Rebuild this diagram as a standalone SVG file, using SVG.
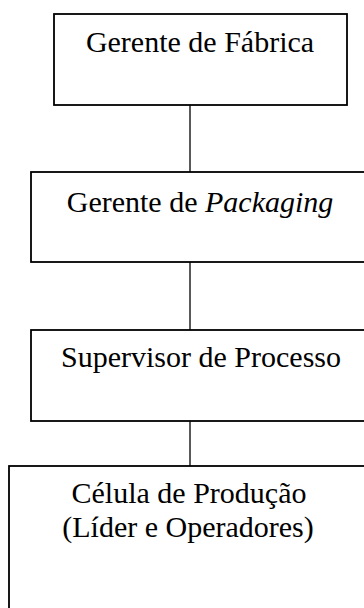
<svg xmlns="http://www.w3.org/2000/svg" width="364" height="608" viewBox="0 0 364 608">
<style>
.box{fill:#fff;stroke:#000;stroke-width:1.8}
.con{stroke:#000;stroke-width:1.3;fill:none}
text{font-family:"Liberation Serif","Times New Roman",serif;font-size:30px;fill:#000;text-anchor:middle}
</style>
<rect width="364" height="608" fill="#fff"/>
<g id="connectors">
<line class="con" x1="190" y1="105" x2="190" y2="172"/>
<line class="con" x1="190" y1="262" x2="190" y2="330"/>
<line class="con" x1="190" y1="421" x2="190" y2="466"/>
</g>
<g id="gerente-fabrica">
<rect class="box" x="54" y="14" width="293" height="91"/>
<text x="200" y="52">Gerente de Fábrica</text>
</g>
<g id="gerente-packaging">
<rect class="box" x="31" y="172" width="340" height="90"/>
<text x="200" y="212">Gerente de <tspan font-style="italic">Packaging</tspan></text>
</g>
<g id="supervisor-processo">
<rect class="box" x="31" y="330" width="340" height="91"/>
<text x="201" y="367">Supervisor de Processo</text>
</g>
<g id="celula-producao">
<rect class="box" x="9" y="466" width="360" height="160"/>
<text x="189" y="503">Célula de Produção</text>
<text x="188" y="537">(Líder e Operadores)</text>
</g>
</svg>
